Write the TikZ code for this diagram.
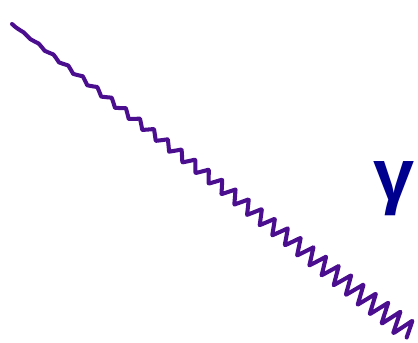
\documentclass[tikz,border=0pt]{standalone}
\usepackage{fontspec}
\setsansfont{Liberation Sans}
\usetikzlibrary{calc}
\definecolor{photonpurple}{HTML}{4A0E8F}
\definecolor{labelblue}{HTML}{00008F}

\begin{document}
\begin{tikzpicture}[
  x=0.02cm, y=-0.02cm,
  photon/.style={photonpurple, line width=2.3pt, line join=round, line cap=round},
  lbl/.style={font=\sffamily\bfseries\fontsize{42}{42}\selectfont, text=labelblue, inner sep=0pt},
]
\useasboundingbox (0,0) rectangle (418,342);

% photon end points
\coordinate (src) at (12,24);
\coordinate (dst) at (410,333);

% wavy photon line, amplitude growing and period shrinking along the way
\begin{scope}[shift={(src)}, rotate=-37.8]
  \draw[photon] plot[domain=0:504, samples=900]
    (\x, {(0.2+\x/46)*asin(sin(19*\x+0.005*\x*\x))/90});
\end{scope}

% label
\node[lbl] (gamma) at (394,189) {γ};

\end{tikzpicture}
\end{document}
